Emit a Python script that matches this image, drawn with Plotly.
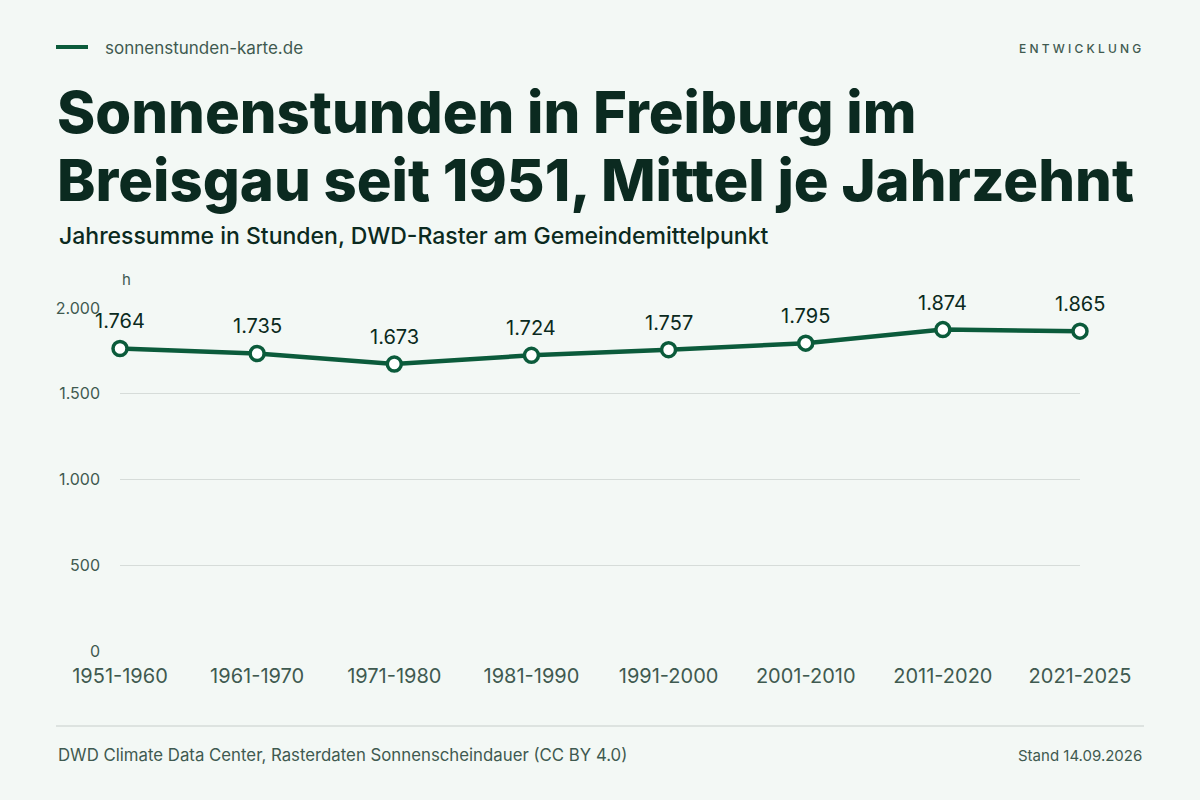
import plotly.graph_objects as go

# Daten: Mittel der Jahressumme je Jahrzehnt (Stunden)
jahrzehnte = ["1951-1960", "1961-1970", "1971-1980", "1981-1990",
              "1991-2000", "2001-2010", "2011-2020", "2021-2025"]
sonnenstunden = [1764, 1735, 1673, 1724, 1757, 1795, 1874, 1865]
y_ticks = [0, 500, 1000, 1500, 2000]
y_tick_labels = ["0", "500", "1.000", "1.500", "2.000"]

# Farben
bg = "#f3f8f5"
gruen = "#0b5b3b"
dunkel = "#0b2a20"
grau_text = "#3f5a50"
grid = "#d6dcd9"
schrift = "Inter, Roboto, sans-serif"

W, H = 1200, 800
L, R, T, B = 120, 1080, 308, 651  # Plotfläche in Pixeln


def px(x):
    return (x - L) / (R - L)


def py(y):
    return (B - y) / (B - T)


labels = [f"{v:,}".replace(",", ".") for v in sonnenstunden]

fig = go.Figure()
fig.add_trace(go.Scatter(
    x=jahrzehnte,
    y=sonnenstunden,
    mode="lines+markers",
    line=dict(color=gruen, width=4.5),
    marker=dict(size=14, color="white", line=dict(color=gruen, width=3.5)),
    cliponaxis=False,
    hoverinfo="skip",
    showlegend=False,
))

# Wertebeschriftung über den Punkten
for kat, wert, lab in zip(jahrzehnte, sonnenstunden, labels):
    fig.add_annotation(x=kat, y=wert, text=lab, showarrow=False,
                       yshift=27, yanchor="middle",
                       font=dict(family=schrift, size=20, color=dunkel))

# Kopfzeile
fig.add_shape(type="line", xref="paper", yref="paper",
              x0=px(56), x1=px(88), y0=py(47), y1=py(47),
              line=dict(color=gruen, width=4))
fig.add_annotation(xref="paper", yref="paper", x=px(103), y=py(48),
                   xanchor="left", yanchor="middle", showarrow=False,
                   text="sonnenstunden-karte.de",
                   font=dict(family=schrift, size=17, color=grau_text))
fig.add_annotation(xref="paper", yref="paper", x=px(1143), y=py(48),
                   xanchor="right", yanchor="middle", showarrow=False,
                   text="E N T W I C K L U N G",
                   font=dict(family=schrift, size=12, color=grau_text, weight=500))

# Titel
fig.add_annotation(xref="paper", yref="paper", x=px(55), y=py(112),
                   xanchor="left", yanchor="middle", showarrow=False,
                   text="Sonnenstunden in Freiburg im",
                   font=dict(family=schrift, size=58, color=dunkel, weight=800))
fig.add_annotation(xref="paper", yref="paper", x=px(55), y=py(180),
                   xanchor="left", yanchor="middle", showarrow=False,
                   text="Breisgau seit 1951, Mittel je Jahrzehnt",
                   font=dict(family=schrift, size=58, color=dunkel, weight=800))
fig.add_annotation(xref="paper", yref="paper", x=px(57), y=py(236),
                   xanchor="left", yanchor="middle", showarrow=False,
                   text="Jahressumme in Stunden, DWD-Raster am Gemeindemittelpunkt",
                   font=dict(family=schrift, size=23, color=dunkel, weight=500))

# Einheit
fig.add_annotation(xref="paper", yref="paper", x=px(120), y=py(279),
                   xanchor="left", yanchor="middle", showarrow=False,
                   text="h", font=dict(family=schrift, size=15, color=grau_text))

# Fußzeile
fig.add_shape(type="line", xref="paper", yref="paper",
              x0=px(56), x1=px(1144), y0=py(726), y1=py(726),
              line=dict(color=grid, width=1.5))
fig.add_annotation(xref="paper", yref="paper", x=px(56), y=py(755),
                   xanchor="left", yanchor="middle", showarrow=False,
                   text="DWD Climate Data Center, Rasterdaten Sonnenscheindauer (CC BY 4.0)",
                   font=dict(family=schrift, size=16.8, color=grau_text))
fig.add_annotation(xref="paper", yref="paper", x=px(1144), y=py(755),
                   xanchor="right", yanchor="middle", showarrow=False,
                   text="Stand 14.09.2026",
                   font=dict(family=schrift, size=15, color=grau_text))

fig.update_layout(
    width=W, height=H,
    margin=dict(l=L, r=W - R, t=T, b=H - B, pad=0),
    paper_bgcolor=bg,
    plot_bgcolor=bg,
    font=dict(family=schrift, color=grau_text),
    xaxis=dict(
        type="category",
        range=[0, len(jahrzehnte) - 1],
        showgrid=False, zeroline=False, showline=False,
        ticks="", tickfont=dict(size=20, color=grau_text),
        ticklabelstandoff=11,
        fixedrange=True,
    ),
    yaxis=dict(
        range=[0, 2000],
        tickvals=y_ticks, ticktext=y_tick_labels,
        showgrid=True, gridcolor=grid, gridwidth=1.2,
        zeroline=False, showline=False, ticks="",
        tickfont=dict(size=16, color=grau_text),
        ticklabelstandoff=19,
        fixedrange=True,
    ),
)

# Seitenrand des Browsers entfernen, damit die Grafik bei 0,0 beginnt
fig.write_html("out.html", config={"displayModeBar": False},
               post_script="document.body.style.margin='0';")
